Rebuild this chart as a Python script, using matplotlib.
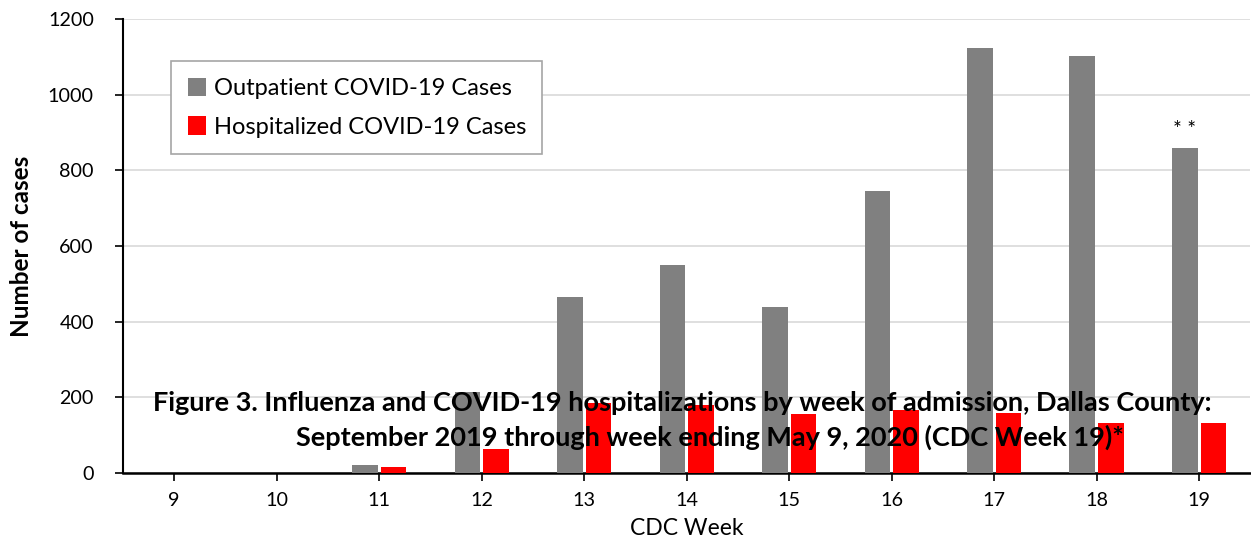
import matplotlib
matplotlib.use("Agg")
import matplotlib.pyplot as plt
import numpy as np

weeks = [9, 10, 11, 12, 13, 14, 15, 16, 17, 18, 19]
outpatient = [0, 0, 20, 214, 465, 550, 438, 745, 1123, 1102, 859]
hospitalized = [0, 0, 16, 63, 186, 180, 155, 166, 159, 133, 133]
series_names = ["Outpatient COVID-19 Cases", "Hospitalized COVID-19 Cases"]
title_lines = ["Figure 3. Influenza and COVID-19 hospitalizations by week of admission, Dallas County:",
               "September 2019 through week ending May 9, 2020 (CDC Week 19)*"]

plt.rcParams['font.family'] = ['Lato', 'DejaVu Sans']

fig = plt.figure(figsize=(12.51, 5.43), dpi=100)
ax = fig.add_axes([123/1251, 1-473/543, 1-123/1251-0.0005, (473-19)/543])

x = np.array(weeks, dtype=float)
w = 0.25
ax.bar(x - 0.14, outpatient, width=w, color='#808080', label=series_names[0], zorder=3)
ax.bar(x + 0.14, hospitalized, width=w, color='#ff0000', label=series_names[1], zorder=3)

ax.set_xlim(8.5, 19.5)
ax.set_ylim(0, 1200)
ax.set_yticks(range(0, 1201, 200))
ax.set_xticks(weeks)
ax.set_xticklabels([str(v) for v in weeks])
ax.tick_params(axis='both', labelsize=14.2, direction='out', length=6, width=1.2, color='black')
ax.tick_params(axis='x', pad=8)
ax.tick_params(axis='y', pad=15)
ax.grid(axis='y', color='#d9d9d9', linewidth=1.2, zorder=0)
ax.set_axisbelow(True)
for s in ['top', 'right']:
    ax.spines[s].set_visible(False)
ax.spines['left'].set_linewidth(1.5)
ax.spines['bottom'].set_linewidth(1.8)

ax.set_xlabel("CDC Week", fontsize=16.5, labelpad=6)
ax.set_ylabel("Number of cases", fontsize=17.5, fontweight='bold')
ax.yaxis.set_label_coords(33/1251, 0.5 * (1-473/543 + 1-19/543), transform=fig.transFigure)

ax.annotate("* *", xy=(19 - 0.14, outpatient[-1]), xytext=(0, 6), textcoords='offset points',
            ha='center', va='bottom', fontsize=15, zorder=5)

leg = ax.legend(loc='upper left', bbox_to_anchor=(171/1251, 1-61/543), bbox_transform=fig.transFigure,
                fontsize=17, frameon=True, fancybox=False, edgecolor='#a6a6a6', framealpha=1,
                handlelength=0.8, handleheight=0.8, handletextpad=0.3, borderpad=0.7,
                labelspacing=0.75, borderaxespad=0)
leg.get_frame().set_linewidth(1.2)

fig.text(682/1251, 1-403/543, title_lines[0], ha='center', va='center', fontsize=19.5,
         fontweight='bold', zorder=10)
fig.text(710/1251, 1-437/543, title_lines[1], ha='center', va='center', fontsize=19.5,
         fontweight='bold', zorder=10)

fig.savefig("out.png", dpi=100)
